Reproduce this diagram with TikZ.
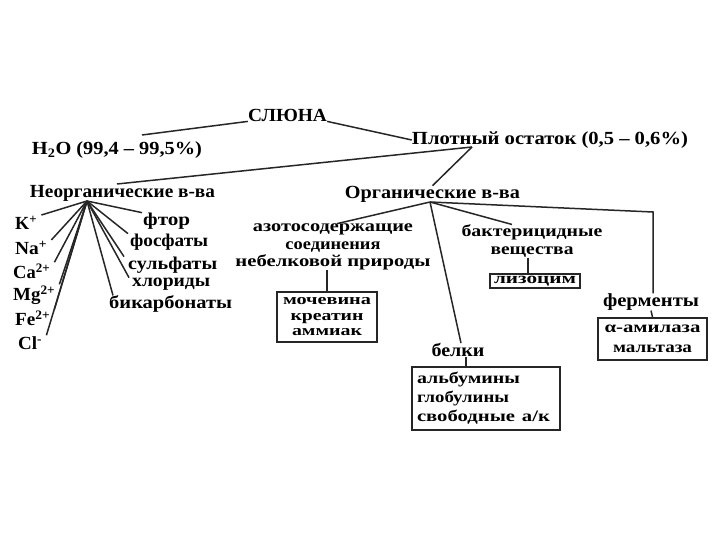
\documentclass[tikz,border=0pt]{standalone}
\usepackage{fontspec}
\setmainfont{Liberation Serif}
\usepackage{graphicx}
\usetikzlibrary{calc}
\newcommand{\hw}[2]{\resizebox{#1pt}{\height}{#2}}
\begin{document}
\begin{tikzpicture}[x=1pt,y=-1pt,
  lbl/.style={inner sep=0pt, font=\bfseries\fontsize{18.5}{20}\selectfont},
  ion/.style={inner sep=0pt, anchor=west, font=\bfseries\fontsize{18.5}{20}\selectfont},
  itm/.style={inner sep=0pt, anchor=west, font=\bfseries\fontsize{18}{20}\selectfont},
  sub/.style={inner sep=0pt, align=center, font=\bfseries\fontsize{16.5}{17.5}\selectfont},
  boxn/.style={draw=black!85, line width=1.8pt, inner sep=0pt, align=center, font=\bfseries\fontsize{15}{15.5}\selectfont},
  conn/.style={line width=1.5pt, draw=black!85}]
\useasboundingbox (0,0) rectangle (720,540);
% top level
\node[lbl] (sl) at (287.5,115) {\hw{79}{СЛЮНА}};
\node[lbl] (h2o) at (117,150) {\hw{170}{H\textsubscript{2}O (99,4 – 99,5\%)}};
\node[lbl] (pl) at (550,140) {\hw{276}{Плотный остаток (0,5 – 0,6\%)}};
\node[lbl] (neo) at (122.5,193) {\hw{185}{Неорганические в-ва}};
\node[lbl] (org) at (432.5,194) {\hw{175}{Органические в-ва}};
\coordinate (h2oT) at (142,135);
\coordinate (plH) at (472,147);
\coordinate (neoT) at (117,184);
\coordinate (nh) at (87,201);
\coordinate (oh) at (430,202);
\draw[conn] (sl.south west) -- (h2oT);
\draw[conn] (sl.south east) -- (pl.west);
\draw[conn] (plH) -- (neoT);
\draw[conn] (plH) -- (org.north);
% ions
\node[ion] (k) at (15,223) {\hw{22}{K\textsuperscript{+}}};
\node[ion] (na) at (15,248) {\hw{32}{Na\textsuperscript{+}}};
\node[ion] (ca) at (13,271) {\hw{37}{Ca\textsuperscript{2+}}};
\node[ion] (mg) at (13,295) {\hw{42}{Mg\textsuperscript{2+}}};
\node[ion] (fe2) at (15,318) {\hw{35}{Fe\textsuperscript{2+}}};
\node[ion] (cl) at (18,343) {\hw{24}{Cl\textsuperscript{-}}};
\foreach \n in {k,na,ca,mg,fe2,cl}
  \draw[conn] (nh) -- ([xshift=4pt,yshift=1pt]\n.north east);
% anions
\node[itm] (ft) at (143,221) {\hw{47}{фтор}};
\node[itm] (fo) at (130,242) {\hw{78}{фосфаты}};
\node[itm] (su) at (128,265) {\hw{89}{сульфаты}};
\node[itm] (xl) at (132,284) {\hw{78}{хлориды}};
\node[itm] (bi) at (109,304) {\hw{123}{бикарбонаты}};
\draw[conn] (nh) -- ([xshift=-1pt]ft.north west);
\draw[conn] (nh) -- ([xshift=-2pt]fo.north west);
\draw[conn] (nh) -- ([xshift=-4pt]su.north west);
\draw[conn] (nh) -- ([xshift=-3pt]xl.north west);
\draw[conn] (nh) -- ([xshift=4pt]bi.north west);
% organic
\node[sub] (az) at (333,247) {\hw{160}{азотосодержащие}\\\hw{95}{соединения}\\\hw{195}{небелковой природы}};
\node[boxn, minimum width=100pt, minimum height=50pt] (mo) at (327,317) {\hw{88}{мочевина}\\\hw{73}{креатин}\\\hw{70}{аммиак}};
\draw[conn] (oh) -- ([xshift=4pt]az.north);
\draw[conn] (az.south -| mo.north) -- (mo.north);
\node[sub, font=\bfseries\fontsize{16.5}{18}\selectfont] (bak) at (532,241) {\hw{141}{бактерицидные}\\\hw{83}{вещества}};
\node[boxn, minimum width=90pt, minimum height=14pt, font=\bfseries\fontsize{15.5}{17}\selectfont] (liz) at (535,281) {\hw{82}{лизоцим}};
\draw[conn] (oh) -- ([xshift=-20pt]bak.north);
\coordinate (lizT) at ([xshift=-7pt]liz.north);
\draw[conn] (bak.south -| lizT) -- (lizT);
\node[lbl] (fer) at (651,302) {\hw{96}{ферменты}};
\node[boxn, minimum width=109pt, minimum height=42pt, font=\bfseries\fontsize{16}{20}\selectfont] (fb) at (652.5,339) {\hw{96}{α-амилаза}\\\hw{79}{мальтаза}};
\coordinate (fc) at (653,212);
\draw[conn] (oh) -- (fc) -- (fc |- fer.north);
\draw[conn] (fer.south) -- (fb.north);
\node[lbl] (be) at (458,350) {\hw{53}{белки}};
\node[boxn, minimum width=148pt, minimum height=63pt, text width=138pt, align=left, font=\bfseries\fontsize{16}{19}\selectfont] (bb) at (486,398.5) {\hw{103}{альбумины}\\\hw{92}{глобулины}\\\hw{133}{свободные а/к}};
\draw[conn] (oh) -- ([xshift=3pt]be.north);
\coordinate (beS) at ([xshift=8pt]be.south);
\draw[conn] (beS) -- (beS |- bb.north);
\end{tikzpicture}
\end{document}
